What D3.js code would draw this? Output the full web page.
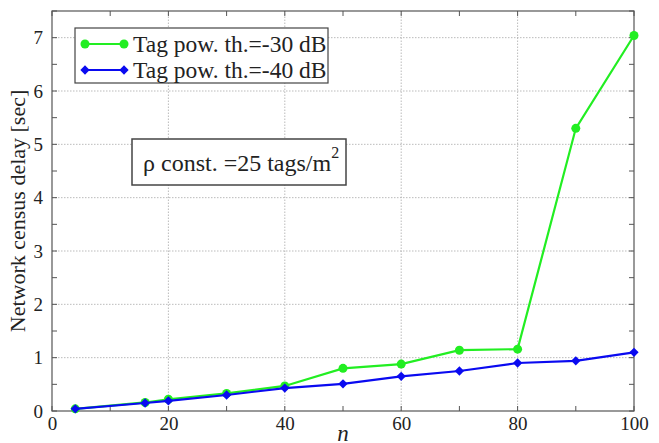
<!DOCTYPE html>
<html>
<head>
<meta charset="utf-8">
<script src="https://cdn.jsdelivr.net/npm/d3@7"></script>
<style>
  body { margin: 0; background: #fff; }
</style>
</head>
<body>
<svg id="chart" width="659" height="443"></svg>
<script>
// data
const nValues = [4, 16, 20, 30, 40, 50, 60, 70, 80, 90, 100];
const delay30 = [0.04, 0.16, 0.22, 0.33, 0.47, 0.80, 0.88, 1.14, 1.16, 5.30, 7.04];
const delay40 = [0.04, 0.15, 0.19, 0.30, 0.43, 0.51, 0.65, 0.75, 0.90, 0.94, 1.10];
const xTicks = [0, 20, 40, 60, 80, 100];
const yTicks = [0, 1, 2, 3, 4, 5, 6, 7];
const seriesNames = ['Tag pow. th.=-30 dB', 'Tag pow. th.=-40 dB'];

const FONT = "'Liberation Serif', serif";
const margin = { left: 52, right: 25, top: 11, bottom: 32 };
const width = 659, height = 443;

const svg = d3.select('#chart');

const x = d3.scaleLinear().domain([0, 100]).range([margin.left, width - margin.right]);
const y = d3.scaleLinear().domain([0, 7.5]).range([height - margin.bottom, margin.top]);

const grid = svg.append('g');

// grid lines
grid.selectAll('.gx')
  .data(xTicks.filter(d => d > 0 && d < 100))
  .enter().append('line')
  .attr('x1', d => x(d)).attr('x2', d => x(d))
  .attr('y1', y(0)).attr('y2', y(7.5))
  .attr('stroke', '#aaa').attr('stroke-width', 0.8).attr('stroke-dasharray', '1.5,1.5');

grid.selectAll('.gy')
  .data(yTicks.filter(d => d > 0))
  .enter().append('line')
  .attr('x1', x(0)).attr('x2', x(100))
  .attr('y1', d => y(d)).attr('y2', d => y(d))
  .attr('stroke', '#aaa').attr('stroke-width', 0.8).attr('stroke-dasharray', '1.5,1.5');

// axes
const xAxis = d3.axisBottom(x).tickValues(xTicks).tickSize(0).tickPadding(6);
const yAxis = d3.axisLeft(y).tickValues(yTicks).tickSize(0).tickPadding(9);

const gx = svg.append('g').attr('transform', `translate(0,${y(0)})`).call(xAxis);
const gy = svg.append('g').attr('transform', `translate(${x(0)},0)`).call(yAxis);
[gx, gy].forEach(g => {
  g.select('.domain').remove();
  g.selectAll('text').attr('fill', '#222')
    .style('font-family', FONT).style('font-size', '19px');
});

// minor tick marks (inside, every 10 on x and 0.5 on y)
const xMinor = d3.range(0, 101, 10);
const yMinor = d3.range(0, 7.51, 0.5);
const tickLen = 5;
svg.append('g').selectAll('line').data(xMinor).enter().append('line')
  .attr('x1', d => x(d)).attr('x2', d => x(d))
  .attr('y1', y(0)).attr('y2', y(0) - tickLen)
  .attr('stroke', '#555');
svg.append('g').selectAll('line').data(xMinor).enter().append('line')
  .attr('x1', d => x(d)).attr('x2', d => x(d))
  .attr('y1', y(7.5)).attr('y2', y(7.5) + tickLen)
  .attr('stroke', '#555');
svg.append('g').selectAll('line').data(yMinor).enter().append('line')
  .attr('x1', x(0)).attr('x2', x(0) + tickLen)
  .attr('y1', d => y(d)).attr('y2', d => y(d))
  .attr('stroke', '#555');
svg.append('g').selectAll('line').data(yMinor).enter().append('line')
  .attr('x1', x(100)).attr('x2', x(100) - tickLen)
  .attr('y1', d => y(d)).attr('y2', d => y(d))
  .attr('stroke', '#555');

// frame
svg.append('rect')
  .attr('x', x(0)).attr('y', y(7.5))
  .attr('width', x(100) - x(0)).attr('height', y(0) - y(7.5))
  .attr('fill', 'none').attr('stroke', '#555').attr('stroke-width', 1.2);

// lines
const line = d3.line().x(d => x(d[0])).y(d => y(d[1]));
const green = '#22ee22', blue = '#0a0af0';

const s30 = nValues.map((n, i) => [n, delay30[i]]);
const s40 = nValues.map((n, i) => [n, delay40[i]]);

svg.append('path').datum(s30).attr('d', line)
  .attr('fill', 'none').attr('stroke', green).attr('stroke-width', 2.2);
svg.append('g').selectAll('circle').data(s30).enter().append('circle')
  .attr('cx', d => x(d[0])).attr('cy', d => y(d[1])).attr('r', 4.5).attr('fill', green);

svg.append('path').datum(s40).attr('d', line)
  .attr('fill', 'none').attr('stroke', blue).attr('stroke-width', 2.2);
const diamond = d3.symbol().type(d3.symbolDiamond2).size(55);
svg.append('g').selectAll('path').data(s40).enter().append('path')
  .attr('d', diamond)
  .attr('transform', d => `translate(${x(d[0])},${y(d[1])})`)
  .attr('fill', blue);

// legend
const lg = svg.append('g').attr('transform', 'translate(75,28)');
lg.append('rect').attr('width', 253).attr('height', 55)
  .attr('fill', '#fff').attr('stroke', '#444').attr('stroke-width', 1.2);
const legendItems = [
  { name: seriesNames[0], color: green, marker: 'circle' },
  { name: seriesNames[1], color: blue, marker: 'diamond' }
];
legendItems.forEach((it, i) => {
  const cy = 16 + i * 26;
  lg.append('line').attr('x1', 10).attr('x2', 49).attr('y1', cy).attr('y2', cy)
    .attr('stroke', it.color).attr('stroke-width', 2.2);
  [10, 49].forEach(cx => {
    if (it.marker === 'circle') {
      lg.append('circle').attr('cx', cx).attr('cy', cy).attr('r', 4.5).attr('fill', it.color);
    } else {
      lg.append('path').attr('d', diamond).attr('transform', `translate(${cx},${cy})`).attr('fill', it.color);
    }
  });
  lg.append('text').attr('x', 58).attr('y', cy + 8).attr('fill', '#222')
    .style('font-family', FONT).style('font-size', '23.5px').text(it.name);
});

// annotation box
const ann = svg.append('g').attr('transform', 'translate(132,139)');
ann.append('rect').attr('width', 214).attr('height', 46)
  .attr('fill', '#fff').attr('stroke', '#444').attr('stroke-width', 1.5);
const annText = ann.append('text').attr('x', 11).attr('y', 32).attr('fill', '#222')
  .style('font-family', FONT).style('font-size', '24px');
annText.append('tspan').text('ρ const. =25 tags/m');
annText.append('tspan').attr('dy', -13).style('font-size', '16px').text('2');

// axis labels
svg.append('text')
  .attr('transform', `translate(25,${(y(0) + y(7.5)) / 2}) rotate(-90)`)
  .attr('text-anchor', 'middle').attr('fill', '#222')
  .style('font-family', FONT).style('font-size', '22px')
  .text('Network census delay [sec]');
svg.append('text')
  .attr('x', x(50)).attr('y', 441)
  .attr('text-anchor', 'middle').attr('fill', '#222')
  .style('font-family', FONT).style('font-size', '23px').style('font-style', 'italic')
  .text('n');
</script>
</body>
</html>
